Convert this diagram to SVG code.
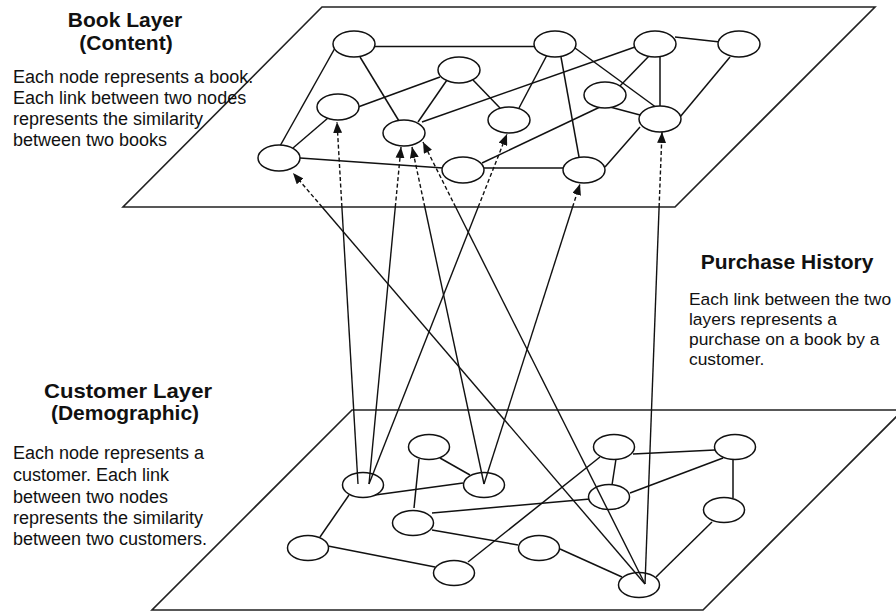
<svg xmlns="http://www.w3.org/2000/svg" width="896" height="611" viewBox="0 0 896 611">
<style>
.plane{fill:none;stroke:#222;stroke-width:1.6}
.node{fill:#fff;stroke:#111;stroke-width:1.5}
.edge{stroke:#111;stroke-width:1.5;fill:none}
.solid{stroke:#111;stroke-width:1.4}
.dash{stroke:#111;stroke-width:1.4;stroke-dasharray:4 2.5;marker-end:url(#arr)}
.h{font-family:"Liberation Sans",Arial,sans-serif;font-weight:bold;font-size:21px;fill:#111;text-anchor:middle}
.t{font-family:"Liberation Sans",Arial,sans-serif;font-size:18px;fill:#111}
.p{font-size:17.4px}
</style>
<defs>
<marker id="arr" viewBox="0 0 11 9" refX="11" refY="4.5" markerWidth="11" markerHeight="9" markerUnits="userSpaceOnUse" orient="auto">
<path d="M0,0 L11,4.5 L0,9 z" fill="#111"/>
</marker>
</defs>
<rect width="896" height="611" fill="#fff"/>

<g id="planes">
<polygon class="plane" points="322,7 875,7 675,207 123,207"/>
<polygon class="plane" points="352,410 903,410 703,610 152,610"/>
</g>

<g id="labels">
<text class="h" x="125" y="27">Book Layer</text>
<text class="h" x="126" y="50">(Content)</text>
<text class="t" x="13" y="83">Each node represents a book.</text>
<text class="t" x="13" y="104">Each link between two nodes</text>
<text class="t" x="13" y="125">represents the similarity</text>
<text class="t" x="13" y="146">between two books</text>

<text class="h" x="787" y="269">Purchase History</text>
<text class="t p" x="689" y="305">Each link between the two</text>
<text class="t p" x="689" y="325">layers represents a</text>
<text class="t p" x="689" y="345">purchase on a book by a</text>
<text class="t p" x="689" y="365">customer.</text>

<text class="h" x="128" y="398" textLength="168" lengthAdjust="spacingAndGlyphs">Customer Layer</text>
<text class="h" x="125" y="420">(Demographic)</text>
<text class="t" x="13" y="459">Each node represents a</text>
<text class="t" x="13" y="481">customer. Each link</text>
<text class="t" x="13" y="503">between two nodes</text>
<text class="t" x="13" y="524">represents the similarity</text>
<text class="t" x="13" y="545">between two customers.</text>
</g>

<g id="book-edges">
<line class="edge" x1="375" y1="46.5" x2="534" y2="46.5"/>
<line class="edge" x1="335" y1="48" x2="280" y2="146"/>
<line class="edge" x1="360" y1="57" x2="399" y2="121"/>
<line class="edge" x1="293" y1="148" x2="328" y2="118"/>
<line class="edge" x1="358" y1="107" x2="440" y2="77"/>
<line class="edge" x1="447" y1="80" x2="418" y2="122"/>
<line class="edge" x1="473" y1="80" x2="500" y2="108"/>
<line class="edge" x1="422" y1="122" x2="635" y2="47"/>
<line class="edge" x1="547" y1="55" x2="519" y2="108"/>
<line class="edge" x1="561" y1="57" x2="579" y2="157"/>
<line class="edge" x1="575" y1="48" x2="657" y2="108"/>
<line class="edge" x1="300" y1="158" x2="443" y2="168"/>
<line class="edge" x1="484" y1="168" x2="564" y2="168"/>
<line class="edge" x1="482" y1="163" x2="600" y2="107"/>
<line class="edge" x1="610" y1="107" x2="640" y2="115"/>
<line class="edge" x1="650" y1="55" x2="618" y2="88"/>
<line class="edge" x1="660" y1="57" x2="660" y2="107"/>
<line class="edge" x1="675" y1="37" x2="720" y2="42"/>
<line class="edge" x1="730" y1="57" x2="680" y2="117"/>
<line class="edge" x1="605" y1="167" x2="640" y2="127"/>
</g>

<g id="book-nodes">
<ellipse id="bA" class="node" cx="354" cy="44" rx="21" ry="13"/>
<ellipse id="bB" class="node" cx="555" cy="44" rx="21" ry="13"/>
<ellipse id="bC" class="node" cx="459" cy="70" rx="21" ry="13"/>
<ellipse id="bD" class="node" cx="338" cy="107" rx="21" ry="13"/>
<ellipse id="bE" class="node" cx="404" cy="133" rx="21" ry="13"/>
<ellipse id="bF" class="node" cx="509" cy="120" rx="21" ry="13"/>
<ellipse id="bG" class="node" cx="279" cy="158" rx="21" ry="13"/>
<ellipse id="bH" class="node" cx="463" cy="170" rx="21" ry="13"/>
<ellipse id="bI" class="node" cx="584" cy="170" rx="21" ry="13"/>
<ellipse id="bJ" class="node" cx="655" cy="44" rx="21" ry="13"/>
<ellipse id="bK" class="node" cx="739" cy="44" rx="21" ry="13"/>
<ellipse id="bL" class="node" cx="605" cy="95" rx="21" ry="13"/>
<ellipse id="bM" class="node" cx="660" cy="119" rx="21" ry="13"/>
</g>

<g id="customer-edges">
<line class="edge" x1="375" y1="495" x2="463" y2="483"/>
<line class="edge" x1="440" y1="458" x2="470" y2="475"/>
<line class="edge" x1="419" y1="459" x2="414" y2="508"/>
<line class="edge" x1="349" y1="495" x2="320" y2="537"/>
<line class="edge" x1="328" y1="546" x2="435" y2="567"/>
<line class="edge" x1="432" y1="513" x2="590" y2="499"/>
<line class="edge" x1="432" y1="530" x2="518" y2="545"/>
<line class="edge" x1="468" y1="562" x2="600" y2="457"/>
<line class="edge" x1="633" y1="454" x2="715" y2="450"/>
<line class="edge" x1="616" y1="459" x2="612" y2="485"/>
<line class="edge" x1="630" y1="493" x2="723" y2="458"/>
<line class="edge" x1="733" y1="459" x2="733" y2="498"/>
<line class="edge" x1="712" y1="522" x2="656" y2="577"/>
<line class="edge" x1="560" y1="549" x2="622" y2="577"/>
</g>

<g id="customer-nodes">
<ellipse id="cP" class="node" cx="363" cy="485" rx="20.5" ry="12.5"/>
<ellipse id="cQ" class="node" cx="429" cy="447" rx="20.5" ry="12.5"/>
<ellipse id="cR" class="node" cx="484" cy="485" rx="20.5" ry="12.5"/>
<ellipse id="cS" class="node" cx="413" cy="523" rx="20.5" ry="12.5"/>
<ellipse id="cT" class="node" cx="308" cy="548" rx="20.5" ry="12.5"/>
<ellipse id="cU" class="node" cx="454" cy="573" rx="20.5" ry="12.5"/>
<ellipse id="cV" class="node" cx="614" cy="447" rx="20.5" ry="12.5"/>
<ellipse id="cW" class="node" cx="735" cy="447" rx="20.5" ry="12.5"/>
<ellipse id="cX" class="node" cx="609" cy="497" rx="20.5" ry="12.5"/>
<ellipse id="cY" class="node" cx="724" cy="510" rx="20.5" ry="12.5"/>
<ellipse id="cZ" class="node" cx="539" cy="548" rx="20.5" ry="12.5"/>
<ellipse id="cAA" class="node" cx="639" cy="585" rx="20.5" ry="12.5"/>
</g>

<g id="purchase-links">
<line class="solid" x1="358" y1="484" x2="341.9" y2="207"/>
<line class="dash" x1="341.9" y1="207" x2="337" y2="122"/>
<line class="solid" x1="369" y1="484" x2="395.3" y2="207"/>
<line class="dash" x1="395.3" y1="207" x2="401" y2="147"/>
<line class="solid" x1="369" y1="484" x2="478.2" y2="207"/>
<line class="dash" x1="478.2" y1="207" x2="507" y2="134"/>
<line class="solid" x1="484" y1="484" x2="424.8" y2="207"/>
<line class="dash" x1="424.8" y1="207" x2="412" y2="147"/>
<line class="solid" x1="484" y1="484" x2="572.6" y2="207"/>
<line class="dash" x1="572.6" y1="207" x2="580" y2="184"/>
<line class="solid" x1="645" y1="584" x2="322.1" y2="207"/>
<line class="dash" x1="322.1" y1="207" x2="293" y2="173"/>
<line class="solid" x1="645" y1="584" x2="455.6" y2="207"/>
<line class="dash" x1="455.6" y1="207" x2="423" y2="142"/>
<line class="solid" x1="645" y1="584" x2="659.1" y2="207"/>
<line class="dash" x1="659.1" y1="207" x2="662" y2="132"/>
</g>
</svg>
